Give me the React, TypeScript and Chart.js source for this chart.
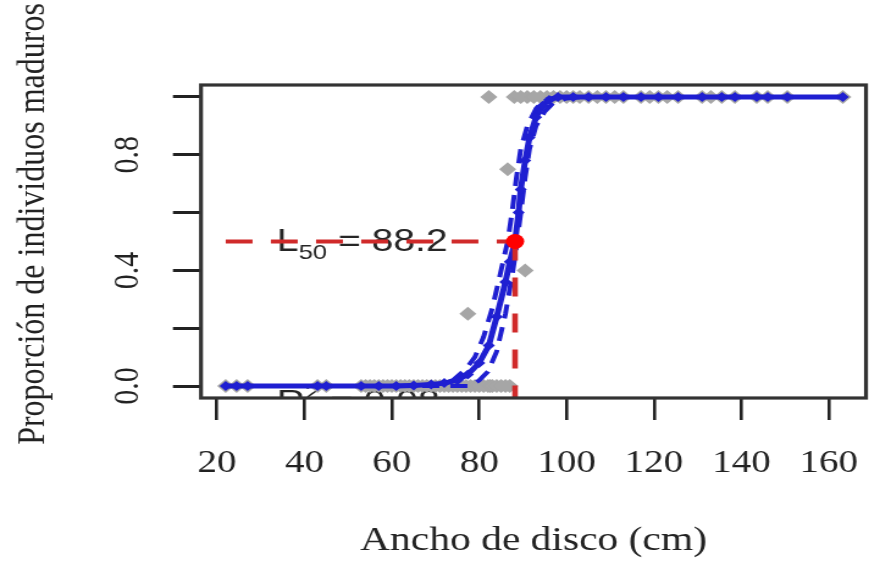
import { useEffect, useRef } from 'react';
import { Chart, registerables } from 'chart.js';

Chart.register(...registerables);

// ---- data ----
const xTicks = [20, 40, 60, 80, 100, 120, 140, 160];
const yTicks = [0, 0.2, 0.4, 0.6, 0.8, 1.0];
const yTickLabels = ['0.0', '', '0.4', '', '0.8', ''];

const obsWidth = [
  22, 24.5, 27, 43, 45, 53, 54, 55, 56, 57, 58, 59, 60, 61, 62, 63, 64, 65, 66, 67, 68, 69, 70, 71, 72, 73, 74, 75, 76, 77, 78, 79, 80, 81, 82, 82.5, 83, 84, 85, 86, 87,
  77.4, 86.5, 90.5,
  82.2, 88, 89.5, 91, 92.5, 94, 95.5, 97, 98.5, 100, 101.5, 103, 105, 107, 109, 111, 113, 117, 119, 121, 123, 125.5, 131, 133, 135.5, 138.5, 143.5, 146, 150.5, 163.2,
];
const obsProp = [
  0, 0, 0, 0, 0, 0, 0, 0, 0, 0, 0, 0, 0, 0, 0, 0, 0, 0, 0, 0, 0, 0, 0, 0, 0, 0, 0, 0, 0, 0, 0, 0, 0, 0, 0, 0, 0, 0, 0, 0, 0,
  0.25, 0.75, 0.4,
  1, 1, 1, 1, 1, 1, 1, 1, 1, 1, 1, 1, 1, 1, 1, 1, 1, 1, 1, 1, 1, 1, 1, 1, 1, 1, 1, 1, 1, 1,
];

const fitWidth = [22, 24.5, 27, 43, 45, 53, 57, 61, 65, 69, 72, 75, 77.4, 80, 82.2, 84, 86, 87, 88.2, 89, 89.5, 90.5, 91.5, 93, 94.5, 96, 98, 101.5, 105, 109, 113, 117, 121, 125.5, 131, 135.5, 138.5, 143.5, 146, 150.5, 163.2];
const fitProp = [0, 0, 0, 0, 0, 0, 0, 0, 0.002, 0.005, 0.01, 0.02, 0.04, 0.08, 0.14, 0.24, 0.36, 0.43, 0.5, 0.6, 0.68, 0.78, 0.86, 0.93, 0.97, 0.99, 1, 1, 1, 1, 1, 1, 1, 1, 1, 1, 1, 1, 1, 1, 1];

const upperWidth = [22, 60, 70, 74, 77, 79, 81, 83, 85, 86.5, 87.5, 88.5, 89.5, 91, 93, 95, 98, 163.2];
const upperProp = [0, 0, 0.005, 0.02, 0.06, 0.1, 0.17, 0.27, 0.4, 0.5, 0.6, 0.72, 0.82, 0.9, 0.96, 0.99, 1, 1];

const lowerWidth = [22, 78, 80, 82, 84, 86, 87.5, 88.5, 89.5, 90.5, 91.5, 93, 95, 97, 100, 104, 163.2];
const lowerProp = [0, 0, 0.02, 0.05, 0.12, 0.25, 0.38, 0.48, 0.6, 0.72, 0.82, 0.9, 0.95, 0.98, 0.995, 1, 1];

const l50Value = 88.2;
const l50Prop = 0.5;
const l50LineStart = 22;

const xTitle = 'Ancho de disco (cm)';
const yTitle = 'Proporción de individuos maduros';
const l50Label = { main: 'L', sub: '50', rest: ' = 88.2' };
const r2Label = { main: 'R', sup: '2', rest: ' = 0.98' };
const l50LabelAt = { x: 33.7, y: 0.467 };
const r2LabelAt = { x: 33.7, y: -0.09 };

// ---- layout ----
const PAGE_W = 869;
const PAGE_H = 565;
const W = 712; // internal canvas width, stretched horizontally to PAGE_W
const H = 565;
const S = PAGE_W / W;
const AREA_LEFT = 201 / S;
const AREA_RIGHT = 866 / S;
const AREA_TOP = 85;
const AREA_BOTTOM = 398;

const zip = (xs: number[], ys: number[]) => xs.map((x, i) => ({ x, y: ys[i] }));

const SERIF = '"Liberation Serif", "DejaVu Serif", serif';
const SANS = '"Liberation Sans", Arial, sans-serif';
const BLUE = '#1f1fd1';
const TEXT = '#222';

const drawPlugin = {
  id: 'rDecor',
  beforeDatasetsDraw(chart: any) {
    const { ctx, chartArea: a, scales } = chart;
    ctx.save();
    ctx.beginPath();
    ctx.rect(a.left, a.top, a.right - a.left, a.bottom - a.top);
    ctx.clip();
    ctx.fillStyle = '#262626';
    ctx.textAlign = 'left';
    ctx.textBaseline = 'alphabetic';

    // L50 label
    let x = scales.x.getPixelForValue(l50LabelAt.x);
    let y = scales.y.getPixelForValue(l50LabelAt.y);
    ctx.font = `32px ${SANS}`;
    ctx.fillText(l50Label.main, x, y);
    x += ctx.measureText(l50Label.main).width;
    ctx.font = `21px ${SANS}`;
    ctx.fillText(l50Label.sub, x, y + 8);
    x += ctx.measureText(l50Label.sub).width;
    ctx.font = `32px ${SANS}`;
    ctx.fillText(l50Label.rest, x, y);

    // R2 label (clipped by plot region)
    x = scales.x.getPixelForValue(r2LabelAt.x);
    y = scales.y.getPixelForValue(r2LabelAt.y);
    ctx.font = `32px ${SANS}`;
    ctx.fillText(r2Label.main, x, y);
    x += ctx.measureText(r2Label.main).width;
    ctx.font = `21px ${SANS}`;
    ctx.fillText(r2Label.sup, x, y - 13);
    x += ctx.measureText(r2Label.sup).width;
    ctx.font = `32px ${SANS}`;
    ctx.fillText(r2Label.rest, x, y);
    ctx.restore();
  },
  afterDraw(chart: any) {
    const { ctx, chartArea: a, scales } = chart;
    ctx.save();
    // box
    ctx.strokeStyle = '#333';
    ctx.lineWidth = 3.2;
    ctx.strokeRect(a.left, a.top, a.right - a.left, a.bottom - a.top);

    // y tick labels, rotated (R style)
    ctx.fillStyle = TEXT;
    ctx.font = `30px ${SERIF}`;
    ctx.textAlign = 'center';
    ctx.textBaseline = 'alphabetic';
    yTicks.forEach((v, i) => {
      const lab = yTickLabels[i];
      if (!lab) return;
      const py = scales.y.getPixelForValue(v);
      ctx.save();
      ctx.translate(113, py);
      ctx.rotate(-Math.PI / 2);
      ctx.fillText(lab, 0, 0);
      ctx.restore();
    });

    // y title
    ctx.font = `32px ${SERIF}`;
    ctx.save();
    ctx.translate(36, 224);
    ctx.rotate(-Math.PI / 2);
    ctx.fillText(yTitle, 0, 0);
    ctx.restore();

    // x title
    ctx.font = `34px ${SERIF}`;
    ctx.fillText(xTitle, (a.left + a.right) / 2, 550);
    ctx.restore();
  },
};

function App() {
  const ref = useRef<HTMLCanvasElement | null>(null);
  useEffect(() => {
    const canvas = ref.current;
    if (!canvas) return;
    const chart = new Chart(canvas, {
      type: 'scatter',
      data: {
        datasets: [
          {
            label: 'L50',
            data: [{ x: l50Value, y: l50Prop }],
            pointStyle: 'circle',
            pointRadius: 7.5,
            backgroundColor: '#ff0000',
            borderWidth: 0,
            order: 0,
          },
          {
            label: 'L50 h',
            data: [{ x: l50LineStart, y: l50Prop }, { x: l50Value, y: l50Prop }],
            showLine: true,
            borderColor: '#d02a2a',
            borderWidth: 4.2,
            borderDash: [22, 15],
            pointRadius: 0,
            order: 1,
          },
          {
            label: 'L50 v',
            data: [{ x: l50Value, y: l50Prop }, { x: l50Value, y: -0.1 }],
            showLine: true,
            borderColor: '#d02a2a',
            borderWidth: 4.6,
            borderDash: [19, 17],
            pointRadius: 0,
            order: 1,
          },
          {
            label: 'fit',
            data: zip(fitWidth, fitProp),
            showLine: true,
            borderColor: BLUE,
            borderWidth: 5,
            pointStyle: 'rectRot',
            pointRadius: 5,
            pointBackgroundColor: BLUE,
            pointBorderWidth: 0,
            order: 2,
          },
          {
            label: 'upper',
            data: zip(upperWidth, upperProp),
            showLine: true,
            borderColor: BLUE,
            borderWidth: 4,
            borderDash: [14, 9],
            pointRadius: 0,
            order: 3,
          },
          {
            label: 'lower',
            data: zip(lowerWidth, lowerProp),
            showLine: true,
            borderColor: BLUE,
            borderWidth: 4,
            borderDash: [14, 9],
            pointRadius: 0,
            order: 3,
          },
          {
            label: 'obs',
            data: zip(obsWidth, obsProp),
            pointStyle: 'rectRot',
            pointRadius: 7,
            backgroundColor: '#a6a6a6',
            borderWidth: 0,
            order: 4,
          },
        ],
      },
      options: {
        responsive: false,
        animation: false,
        devicePixelRatio: 1,
        events: [],
        layout: { autoPadding: false, padding: { top: AREA_TOP, right: W - AREA_RIGHT, left: 0, bottom: 0 } },
        plugins: { legend: { display: false }, tooltip: { enabled: false } },
        scales: {
          x: {
            type: 'linear',
            min: 16.34,
            max: 168.5,
            afterBuildTicks: (s: any) => {
              s.ticks = xTicks.map((v) => ({ value: v }));
            },
            afterFit: (s: any) => {
              s.height = H - AREA_BOTTOM;
              s.paddingLeft = 0;
              s.paddingRight = 0;
              s.paddingTop = 0;
              s.paddingBottom = 0;
            },
            grid: { drawOnChartArea: false, tickLength: 22, color: '#222', lineWidth: 2.6 },
            border: { display: false },
            ticks: {
              font: { family: SERIF, size: 32 },
              color: TEXT,
              padding: 24,
              maxRotation: 0,
              minRotation: 0,
              autoSkip: false,
            },
          },
          y: {
            type: 'linear',
            min: -0.0415,
            max: 1.0415,
            afterBuildTicks: (s: any) => {
              s.ticks = yTicks.map((v) => ({ value: v }));
            },
            afterFit: (s: any) => {
              s.width = AREA_LEFT;
              s.paddingLeft = 0;
              s.paddingRight = 0;
              s.paddingTop = 0;
              s.paddingBottom = 0;
            },
            grid: { drawOnChartArea: false, tickLength: 23, color: '#222', lineWidth: 3 },
            border: { display: false },
            ticks: { display: false },
          },
        },
      },
      plugins: [drawPlugin],
    } as any);
    return () => chart.destroy();
  }, []);

  return (
    <div style={{ position: 'fixed', left: 0, top: 0, width: PAGE_W, height: PAGE_H, background: '#fff' }}>
      <canvas ref={ref} width={W} height={H} style={{ width: `${PAGE_W}px`, height: `${PAGE_H}px`, display: 'block' }} />
    </div>
  );
}

export default App;
